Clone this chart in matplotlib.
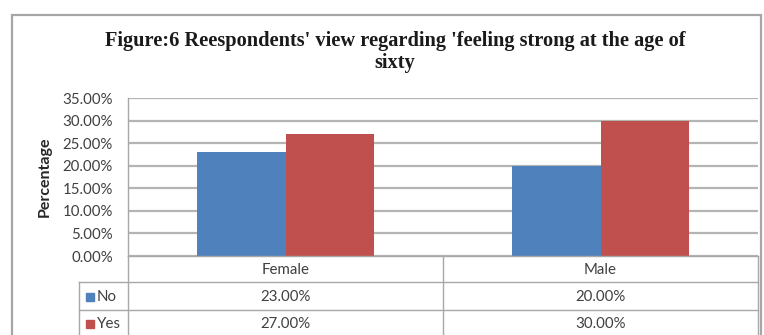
import matplotlib
matplotlib.use("Agg")
import matplotlib.pyplot as plt
from matplotlib.patches import Rectangle
from matplotlib.lines import Line2D
from matplotlib.transforms import blended_transform_factory
import numpy as np

# Data
categories = ["Female", "Male"]
series_names = ["No", "Yes"]
no_values = [23.0, 20.0]
yes_values = [27.0, 30.0]
y_ticks = [0, 5, 10, 15, 20, 25, 30, 35]

colors = {"No": "#4f81bd", "Yes": "#c0504d"}
text_color = "#404040"
grid_color = "#b4b4b4"
table_line = "#a8a8a8"
body_font = "Lato"
body_size = 10.8

W, H = 764, 335
fig = plt.figure(figsize=(W / 100, H / 100), dpi=100)
fig.patch.set_facecolor("white")


def fx(px):
    return px / W


def fy(py):
    return 1 - py / H


# Outer chart frame
fig.patches.append(Rectangle((fx(12), fy(345)), fx(761) - fx(12), fy(15) - fy(345),
                             transform=fig.transFigure, fill=False,
                             edgecolor="#a6a6a6", linewidth=1.6, zorder=0))

# Plot area
ax_left, ax_right, ax_top, ax_bottom = 128, 758, 98, 256
ax = fig.add_axes([fx(ax_left), fy(ax_bottom), fx(ax_right) - fx(ax_left),
                   fy(ax_top) - fy(ax_bottom)])
ax.set_facecolor("none")

x = np.arange(len(categories))
bw = 0.2825
ax.bar(x - bw / 2, no_values, width=bw, color=colors["No"], zorder=3)
ax.bar(x + bw / 2, yes_values, width=bw, color=colors["Yes"], zorder=3)

ax.set_xlim(-0.5, len(categories) - 0.5)
ax.set_ylim(0, 35)
ax.set_yticks(y_ticks)
ax.set_yticklabels([f"{v:.2f}%" for v in y_ticks], fontfamily=body_font,
                   fontsize=body_size, color=text_color)
ax.set_xticks([])
ax.tick_params(axis="y", length=0, pad=11)
ax.yaxis.grid(True, color=grid_color, linewidth=1.6, zorder=0)
ax.set_axisbelow(True)
for side in ["top", "right", "bottom"]:
    ax.spines[side].set_visible(False)
ax.spines["left"].set_color(table_line)
ax.spines["left"].set_linewidth(1.0)

# Title and axis label
fig.text(fx(395), fy(41), "Figure:6 Reespondents' view regarding 'feeling strong at the age of",
         ha="center", va="center", fontfamily="Liberation Serif", fontweight="bold",
         fontsize=14.7, color="#1a1a1a")
fig.text(fx(395), fy(63), "sixty", ha="center", va="center",
         fontfamily="Liberation Serif", fontweight="bold", fontsize=14.7, color="#1a1a1a")
fig.text(fx(45), fy(177), "Percentage", rotation=90, ha="center", va="center",
         fontfamily=body_font, fontweight="bold", fontsize=11.5, color="#262626")

# Data table below the plot
tr = blended_transform_factory(ax.transData, fig.transFigure)
row_edges = [256, 282, 310, 345]
legend_left = 79
col_edges = [c - 0.5 for c in range(len(categories) + 1)]

# horizontal lines
for ry in row_edges[:3]:
    start = ax_left if ry == 256 else legend_left
    fig.lines.append(Line2D([fx(start), fx(ax_right)], [fy(ry), fy(ry)],
                            transform=fig.transFigure, color=table_line, linewidth=1.0))
# vertical lines
for ce in col_edges:
    ax.add_line(Line2D([ce, ce], [fy(256), fy(345)], transform=tr, color=table_line,
                       linewidth=1.0, clip_on=False))
fig.lines.append(Line2D([fx(legend_left), fx(legend_left)], [fy(282), fy(345)],
                        transform=fig.transFigure, color=table_line, linewidth=1.0))

# header row
for i, cat in enumerate(categories):
    ax.text(i, fy(270), cat, transform=tr, ha="center", va="center",
            fontfamily=body_font, fontsize=body_size, color=text_color)

# value rows with legend keys
series_values = {"No": no_values, "Yes": yes_values}
row_centers = {"No": 297, "Yes": 324}
for name in series_names:
    cy = row_centers[name]
    fig.patches.append(Rectangle((fx(86), fy(cy + 4)), fx(94) - fx(86), fy(cy - 4) - fy(cy + 4),
                                 transform=fig.transFigure, color=colors[name]))
    fig.text(fx(97), fy(cy), name, ha="left", va="center", fontfamily=body_font,
             fontsize=body_size, color=text_color)
    for i, v in enumerate(series_values[name]):
        ax.text(i, fy(cy), f"{v:.2f}%", transform=tr, ha="center", va="center",
                fontfamily=body_font, fontsize=body_size, color=text_color)

fig.savefig("out.png", dpi=100, facecolor="white")
